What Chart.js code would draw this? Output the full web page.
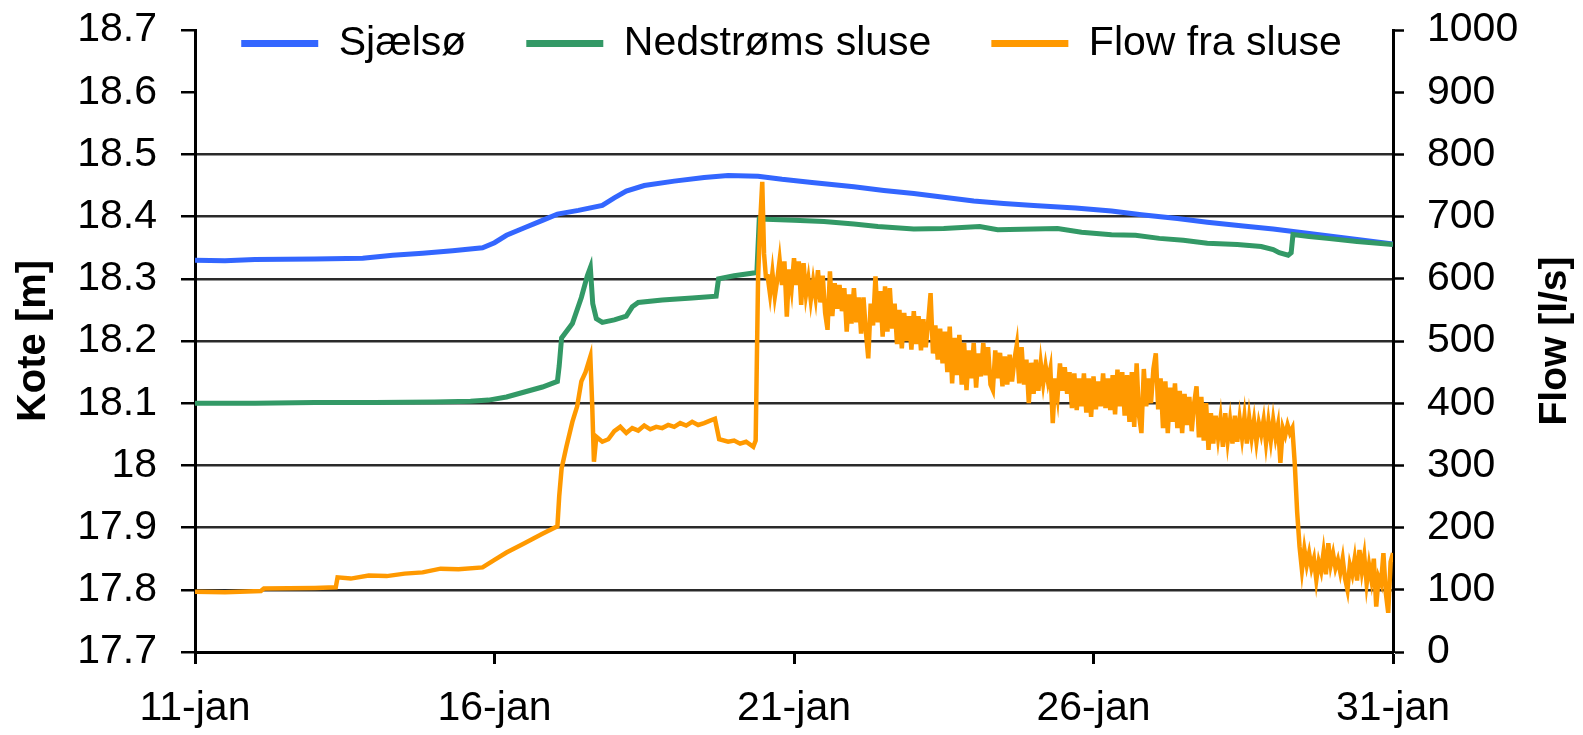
<!DOCTYPE html>
<html>
<head>
<meta charset="utf-8">
<script src="https://cdn.jsdelivr.net/npm/chart.js@4.4.1/dist/chart.umd.min.js"></script>
<style>
  html, body { margin: 0; padding: 0; background: #ffffff; }
  #wrap { width: 1583px; height: 735px; }
</style>
</head>
<body>
<div id="wrap"><canvas id="c" width="1583" height="735"></canvas></div>
<script>
// ---------------- DATA ----------------
const seriesNames = ['Sjælsø', 'Nedstrøms sluse', 'Flow fra sluse'];
const dayTickLabels = ['11-jan', '16-jan', '21-jan', '26-jan', '31-jan'];
const koteTickLabels = ['17.7', '17.8', '17.9', '18', '18.1', '18.2', '18.3', '18.4', '18.5', '18.6', '18.7'];
const flowTickLabels = ['0', '100', '200', '300', '400', '500', '600', '700', '800', '900', '1000'];
const koteAxisTitle = 'Kote [m]';
const flowAxisTitle = 'Flow [l/s]';

// days after 11-jan
const sjDays = [0,0.5,1,2,2.8, 3.3,3.8,4.3,4.8,5.0, 5.2,5.5,5.8,6.05,6.4, 6.8,7.0,7.2,7.5,8.0,
  8.5,8.9,9.4,9.8,10.3, 11.0,11.5,12.0,12.5,13.0, 13.5,14.0,14.7,15.3,15.8, 16.4,16.9,17.5,18.0,18.5, 19.0,19.5,20.0];
const sjLevel = [18.330,18.329,18.331,18.332,18.333, 18.338,18.341,18.345,18.350,18.358, 18.370,18.382,18.394,18.404,18.410, 18.418,18.430,18.441,18.450,18.457,
  18.463,18.466,18.465,18.460,18.455, 18.448,18.442,18.437,18.431,18.425, 18.421,18.418,18.414,18.409,18.403, 18.397,18.391,18.385,18.380,18.374, 18.368,18.362,18.356];

const nsDays = [0,1,2,3,4, 4.6,4.9,5.2,5.5,5.8, 6.05,6.08,6.12,6.3,6.45, 6.55,6.6,6.64,6.7,6.8,
  7.0,7.2,7.3,7.4,7.8, 8.3,8.7,8.74,9.0,9.38, 9.42,10.0,10.5,11.0,11.4, 12.0,12.5,13.1,13.4,14.0,
  14.4,14.8,15.3,15.7,16.1, 16.5,16.9,17.4,17.8,18.0, 18.1,18.25,18.3,18.33,18.6, 18.9,19.4,20.0];
const nsLevel = [18.100,18.100,18.101,18.101,18.102, 18.103,18.105,18.110,18.118,18.126, 18.135,18.160,18.205,18.228,18.270, 18.305,18.318,18.260,18.236,18.230,
  18.234,18.240,18.255,18.262,18.266, 18.269,18.272,18.300,18.305,18.310, 18.396,18.394,18.392,18.388,18.384, 18.380,18.381,18.384,18.379,18.380,
  18.381,18.375,18.371,18.370,18.365, 18.362,18.357,18.355,18.352,18.347, 18.342,18.338,18.342,18.371,18.368, 18.365,18.360,18.355];

const flowDays = [
  0,0.5,1.1,1.15,2.0,2.35,2.38,2.6,2.9,3.2,
  3.5,3.8,4.1,4.4,4.8,5.0,5.2,5.5,5.8,6.05,
  6.08,6.12,6.2,6.3,6.38,6.45,6.52,6.6,6.63,6.66,
  6.7,6.8,6.9,7.0,7.1,7.2,7.3,7.4,7.5,7.6,
  7.7,7.8,7.9,8.0,8.1,8.2,8.3,8.4,8.5,8.6,
  8.68,8.75,8.9,9.0,9.1,9.2,9.32,9.36,9.4,9.44,
  9.47,9.5,9.53,
  9.56,9.60,9.64,9.68,9.72,9.76,9.80,9.84,9.88,9.92,
  9.96,10.00,10.04,10.08,10.12,10.16,10.20,10.24,10.28,10.32,
  10.36,10.40,10.44,10.48,10.52,10.56,10.60,10.64,10.68,10.72,
  10.76,10.80,10.84,10.88,10.92,10.96,11.00,11.04,11.08,11.12,
  11.16,11.20,11.24,11.28,11.32,11.36,11.40,11.44,11.48,11.52,
  11.56,11.60,11.64,11.68,11.72,11.76,11.80,11.84,11.88,11.92,
  11.96,12.00,12.04,12.08,12.12,12.16,12.20,12.24,12.28,12.32,
  12.36,12.40,12.44,12.48,12.52,12.56,12.60,12.64,12.68,12.72,
  12.76,12.80,12.84,12.88,12.92,12.96,13.00,13.04,13.08,13.12,
  13.16,13.20,13.24,13.28,13.32,13.36,13.40,13.44,13.48,13.52,
  13.56,13.60,13.64,13.68,13.72,13.76,13.80,13.84,13.88,13.92,
  13.96,14.00,14.04,14.08,14.12,14.16,14.20,14.24,14.28,14.32,
  14.36,14.40,14.44,14.48,14.52,14.56,14.60,14.64,14.68,14.72,
  14.76,14.80,14.84,14.88,14.92,14.96,15.00,15.04,15.08,15.12,
  15.16,15.20,15.24,15.28,15.32,15.36,15.40,15.44,15.48,15.52,
  15.56,15.60,15.64,15.68,15.72,15.76,15.80,15.84,15.88,15.92,
  15.96,16.00,16.04,16.08,16.12,16.16,16.20,16.24,16.28,16.32,
  16.36,16.40,16.44,16.48,16.52,16.56,16.60,16.64,16.68,16.72,
  16.76,16.80,16.84,16.88,16.92,16.96,17.00,17.04,17.08,17.12,
  17.16,17.20,17.24,17.28,17.32,17.36,17.40,17.44,17.48,17.52,
  17.56,17.60,17.64,17.68,17.72,17.76,17.80,17.84,17.88,17.92,
  17.96,18.00,18.04,18.08,18.12,18.16,18.20,18.24,18.28,18.32,
  18.36,18.40,
  18.44,18.48,18.52,18.56,18.60,18.64,18.68,18.72,18.76,18.80,
  18.84,18.88,18.92,18.96,19.00,19.04,19.08,19.12,19.16,19.20,
  19.24,19.28,19.32,19.36,19.40,19.44,19.48,19.52,19.56,19.60,
  19.64,19.68,19.72,19.76,19.80,19.84,19.88,19.92,19.96,20.00];
const flowVals = [
  97,96,98,102,103,104,120,118,123,122,
  126,128,134,133,136,148,160,175,190,202,
  250,295,330,370,395,435,450,475,400,306,
  346,338,342,355,362,352,360,356,364,358,
  362,360,365,362,368,364,370,365,368,372,
  375,342,338,340,335,338,330,340,600,700,
  756,640,604,
  604,575,610,572,598,630,590,628,539,615,
  585,633,590,628,558,625,575,600,566,596,
  570,614,562,605,545,518,612,540,593,552,
  590,548,585,515,575,528,585,530,570,512,
  570,515,472,560,525,604,530,580,507,588,
  515,585,520,560,495,550,488,545,500,540,
  486,548,495,540,485,535,490,530,577,480,
  525,470,520,464,515,450,523,432,505,445,
  510,430,497,421,485,440,497,425,480,443,
  497,445,490,430,421,485,440,481,427,475,
  430,478,435,470,494,432,490,430,470,400,
  465,415,470,420,464,432,460,435,455,368,
  440,411,464,420,458,415,450,392,448,389,
  440,395,448,385,440,378,443,390,435,395,
  448,392,440,389,445,382,454,395,450,380,
  445,370,450,362,464,380,352,455,395,440,
  400,455,480,390,440,360,435,352,425,370,
  432,360,420,352,415,365,410,355,400,427,
  345,410,340,400,325,384,335,380,345,375,
  330,384,340,372,335,380,338,375,345,378,
  335,376,345,372,338,368,350,373,336,370,
  340,373,345,365,304,360,348,365,352,360,
  303,225,
  169,132,165,140,159,135,150,116,145,130,
  160,125,175,140,158,135,148,128,150,118,
  100,140,125,150,115,164,130,155,110,140,
  116,150,73,120,110,159,95,63,145,159];

const seriesColors = ['#3366ff', '#339966', '#ff9900'];

// ---------------- CHART ----------------
const FONT = '"Liberation Sans", Arial, Helvetica, sans-serif';
Chart.defaults.font.family = FONT;
Chart.defaults.color = '#000';

const toXY = (xs, ys) => xs.map((x, i) => ({ x: x, y: ys[i] }));

const legendPlacement = {
  id: 'legendPlacement',
  beforeInit(chart) {
    const lg = chart.legend;
    if (lg) {
      const fit = lg.fit;
      lg.fit = function () { fit.call(this); this.height = 0; };
    }
  },
  afterLayout(chart) {
    const lg = chart.legend;
    if (lg) {
      lg.top = -37;
      lg.height = 150;
      lg.bottom = lg.top + lg.height;
    }
  }
};

const rightTitle = {
  id: 'rightTitle',
  afterDraw(chart) {
    const s = chart.scales.y1;
    const ctx = chart.ctx;
    const ca = chart.chartArea;
    ctx.save();
    ctx.translate(s.right - 28, (ca.top + ca.bottom) / 2);
    ctx.rotate(-Math.PI / 2);
    ctx.font = 'bold 39px ' + FONT;
    ctx.fillStyle = '#000';
    ctx.textAlign = 'center';
    ctx.textBaseline = 'middle';
    ctx.fillText(flowAxisTitle, 0, 0);
    ctx.restore();
  }
};

new Chart(document.getElementById('c'), {
  type: 'line',
  data: {
    datasets: [
      { label: seriesNames[0], data: toXY(sjDays, sjLevel), yAxisID: 'y', borderColor: seriesColors[0], backgroundColor: seriesColors[0], borderWidth: 5, pointRadius: 0, tension: 0, order: 2 },
      { label: seriesNames[1], data: toXY(nsDays, nsLevel), yAxisID: 'y', borderColor: seriesColors[1], backgroundColor: seriesColors[1], borderWidth: 5, pointRadius: 0, tension: 0, order: 1 },
      { label: seriesNames[2], data: toXY(flowDays, flowVals), yAxisID: 'y1', borderColor: seriesColors[2], backgroundColor: seriesColors[2], borderWidth: 4.5, pointRadius: 0, tension: 0, order: 0 }
    ]
  },
  options: {
    responsive: false,
    animation: false,
    events: [],
    layout: { padding: { top: 30, left: 0, right: 0, bottom: 0 } },
    plugins: {
      tooltip: { enabled: false },
      legend: {
        position: 'top',
        labels: {
          font: { size: 41 },
          color: '#000',
          boxWidth: 77,
          boxHeight: 7,
          padding: 60,
          sort: (a, b) => a.datasetIndex - b.datasetIndex,
          generateLabels(chart) {
            const items = Chart.defaults.plugins.legend.labels.generateLabels(chart);
            items.forEach(it => { it.lineWidth = 0; it.fillStyle = it.strokeStyle; });
            return items;
          }
        }
      }
    },
    scales: {
      x: {
        type: 'linear',
        min: 0, max: 20,
        afterFit(scale) { scale.height = 83; scale.paddingLeft = 0; scale.paddingRight = 0; },
        afterBuildTicks(scale) { scale.ticks = dayTickLabels.map((_, i) => ({ value: i * 5 })); },
        ticks: {
          callback: (v, i) => dayTickLabels[i],
          font: { size: 41 }, color: '#000', padding: 20, maxRotation: 0, autoSkip: false
        },
        grid: { drawOnChartArea: false, drawTicks: true, tickLength: 12, tickColor: '#000', tickWidth: 3 },
        border: { display: true, color: '#000', width: 3 }
      },
      y: {
        position: 'left',
        min: 17.7, max: 18.7,
        afterFit(scale) { scale.width = 195; scale.paddingTop = 0; scale.paddingBottom = 0; },
        afterBuildTicks(scale) { scale.ticks = koteTickLabels.map(t => ({ value: parseFloat(t) })); },
        ticks: {
          callback: (v, i) => koteTickLabels[i],
          font: { size: 41 }, color: '#000', padding: 24, autoSkip: false
        },
        grid: {
          color: (c) => (c.tick && c.tick.value <= 18.5001) ? '#2a2a2a' : 'rgba(0,0,0,0)',
          lineWidth: 2.5,
          tickColor: '#000', tickLength: 14, tickWidth: 2.5
        },
        border: { display: true, color: '#000', width: 3 },
        title: { display: true, text: koteAxisTitle, font: { size: 40, weight: 'bold' }, color: '#000', padding: { top: 10, bottom: 0 } }
      },
      y1: {
        position: 'right',
        min: 0, max: 1000,
        afterFit(scale) { scale.width = 190; scale.paddingTop = 0; scale.paddingBottom = 0; },
        afterBuildTicks(scale) { scale.ticks = flowTickLabels.map(t => ({ value: parseFloat(t) })); },
        ticks: {
          callback: (v, i) => flowTickLabels[i],
          font: { size: 41 }, color: '#000', padding: 23, autoSkip: false
        },
        grid: { drawOnChartArea: false, tickColor: '#000', tickLength: 11, tickWidth: 2.5 },
        border: { display: true, color: '#000', width: 3 },
        title: { display: false, text: flowAxisTitle }
      }
    }
  },
  plugins: [legendPlacement, rightTitle]
});
</script>
</body>
</html>
